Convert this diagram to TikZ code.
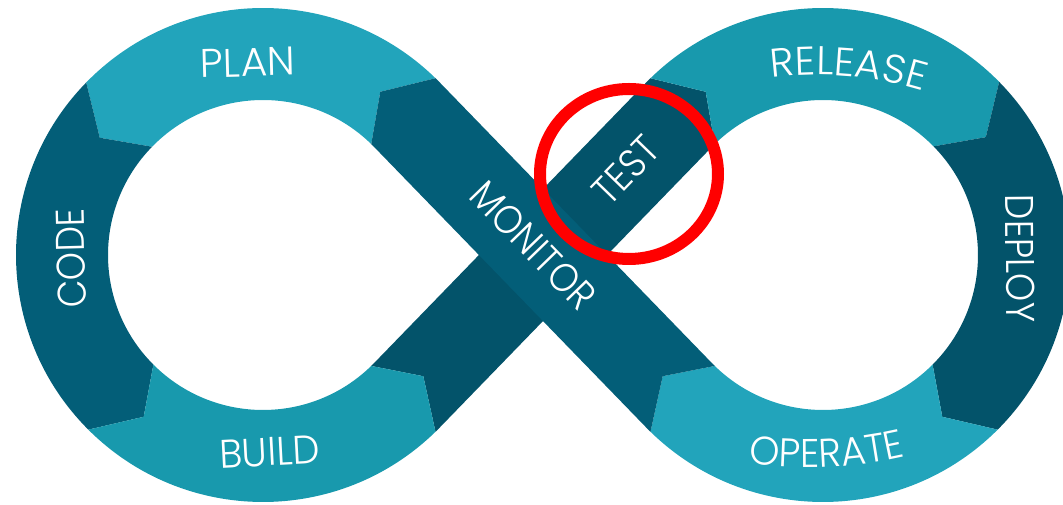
\documentclass[tikz,border=0pt]{standalone}
\usepackage{fontspec}
\newfontfamily\lblfont{Poppins Light}[FakeStretch=0.9]
\newfontfamily\lblmid{Poppins Light}[FakeStretch=0.96]
\newfontfamily\lblwide{Poppins Light}[FakeStretch=1.02]
\usetikzlibrary{calc,decorations.text}
\definecolor{lightA}{HTML}{22A4BB}
\definecolor{lightB}{HTML}{1899AD}
\definecolor{darkA}{HTML}{035E78}
\definecolor{darkB}{HTML}{03536A}
\definecolor{ringred}{HTML}{FF0000}
\newcommand\lblsize{\fontsize{40pt}{40pt}\selectfont}
% #1 colour, #2 centre, #3 start angle, #4 end angle, #5 tip angle, #6 notch angle
\newcommand\ringseg[6]{%
  \fill[#1] ($(#2)+(#3:247pt)$) arc[start angle=#3,end angle=#4,radius=247pt]
    -- ($(#2)+(#5:201pt)$) -- ($(#2)+(#4:155pt)$)
    arc[start angle=#4,end angle=#3,radius=155pt]
    -- ($(#2)+(#6:201pt)$) -- cycle;}
% #1 font, #2 centre, #3 start, #4 end, #5 radius, #6 text
\newcommand\arctext[6]{%
  \path[decorate,decoration={text along path,text align=center,
    text={|#1\lblsize\color{white}|#6}}]
    ($(#2)+(#3:#5)$) arc[start angle=#3,end angle=#4,radius=#5];}
\begin{document}
\begin{tikzpicture}[x=1pt,y=1pt,
  lbl/.style={text=white,inner sep=0pt}]
\useasboundingbox (-543,-250) rectangle (520,255);
\clip (-543,-250) rectangle (520,255);
\coordinate (L) at (-280,0);
\coordinate (R) at (280,0);
\coordinate (relc) at (275,-175);
\coordinate (opec) at (265,220.5);
% TEST diagonal (under MONITOR)
\fill[darkB] ($(L)+(314.3:247pt)$) arc[start angle=314.3,end angle=315.88,radius=247pt]
  -- ($(R)+(135.88:155pt)$) arc[start angle=135.88,end angle=134.3,radius=155pt]
  -- ($(R)+(125.7:201pt)$) -- ($(R)+(134.3:247pt)$)
  arc[start angle=134.3,end angle=135.88,radius=247pt]
  -- ($(L)+(315.88:155pt)$) arc[start angle=315.88,end angle=314.3,radius=155pt]
  -- ($(L)+(322.9:201pt)$) -- cycle;
% ring segments
\ringseg{lightA}{L}{45.7}{135.7}{144.3}{54.3}   % PLAN
\ringseg{darkA}{L}{135.7}{225}{233.6}{144.3}    % CODE
\ringseg{lightB}{L}{225}{314.3}{322.9}{233.6}   % BUILD
\ringseg{lightB}{R}{134.3}{44.5}{35.9}{125.7}   % RELEASE
\ringseg{darkB}{R}{44.5}{-45}{-53.6}{35.9}      % DEPLOY
\ringseg{lightA}{R}{315}{225.7}{217.1}{306.4}   % OPERATE
% MONITOR diagonal (on top)
\fill[darkA] ($(R)+(225.7:247pt)$) arc[start angle=225.7,end angle=224.12,radius=247pt]
  -- ($(L)+(44.12:155pt)$) arc[start angle=44.12,end angle=45.7,radius=155pt]
  -- ($(L)+(54.3:201pt)$) -- ($(L)+(45.7:247pt)$)
  arc[start angle=45.7,end angle=44.12,radius=247pt]
  -- ($(R)+(224.12:155pt)$) arc[start angle=224.12,end angle=225.7,radius=155pt]
  -- ($(R)+(217.1:201pt)$) -- cycle;
% labels
\node[lbl,font=\lblwide\lblsize,rotate=1.5] (plan) at (-295,192.5) {PLAN};
\node[lbl,font=\lblfont\lblsize,rotate=91.5] (code) at (-472,-3.5) {CODE};
\node[lbl,font=\lblmid\lblsize,rotate=3] (build) at (-273.5,-197) {BUILD};
\node[lbl,font=\lblfont\lblsize,rotate=-89.5] (deploy) at (477,-3.5) {DEPLOY};
\arctext{\lblwide}{relc}{115.15}{55.15}{355pt}{RELEASE}
\arctext{\lblmid}{opec}{247.6}{297.6}{433pt}{OPERATE}
\node[lbl,font=\lblfont\lblsize,rotate=-45.88] (monitor) at (-9.5,9.5) {MONITOR};
\node[lbl,font=\lblfont\lblsize,rotate=45.88] (test) at (83,85) {TEST};
% red highlight ring
\draw[ringred,line width=12pt] (86,81) ellipse [x radius=89pt,y radius=85pt];
\end{tikzpicture}
\end{document}
